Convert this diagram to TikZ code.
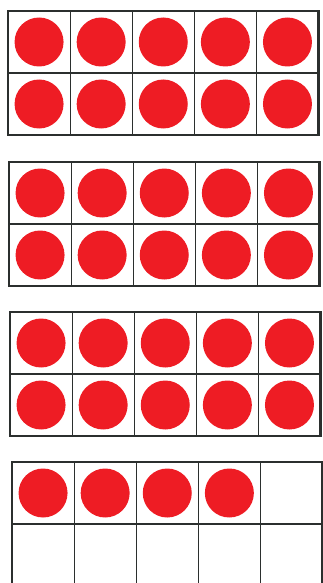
\documentclass[tikz,border=0pt]{standalone}
\usetikzlibrary{positioning}
\definecolor{dotred}{HTML}{EE1C24}
\definecolor{frameline}{HTML}{2B2F2E}

\begin{document}
\begin{tikzpicture}[x=1pt,y=-1pt,
  cell/.style={draw=frameline,line width=1.2pt,minimum width=62.1pt,
               minimum height=62pt,inner sep=0pt,outer sep=0pt},
  dot/.style={circle,fill=dotred,minimum size=49pt,inner sep=0pt},
  rim/.style={draw=frameline,line width=2.4pt}
]
\useasboundingbox (0,0) rectangle (323,583);
\clip (0,0) rectangle (323,583);
% four ten-frames: number, left edge, top edge, how many counters
\foreach \f/\lx/\ty/\n in {1/8/11/10,2/9/162/10,3/10/312/10,4/12/462/4}{
  \foreach \r in {0,1}{
    \foreach \c in {0,...,4}{
      \node[cell] (f\f c\r\c) at (\lx+31.05+62.1*\c, \ty+31+62*\r) {};
      \pgfmathtruncatemacro{\k}{5*\r+\c}
      \ifnum\k<\n \node[dot] (d\f\r\c) at (f\f c\r\c) {}; \fi
    }
  }
  \draw[rim] (f\f c00.north west) rectangle (f\f c14.south east);
}
\end{tikzpicture}
\end{document}
